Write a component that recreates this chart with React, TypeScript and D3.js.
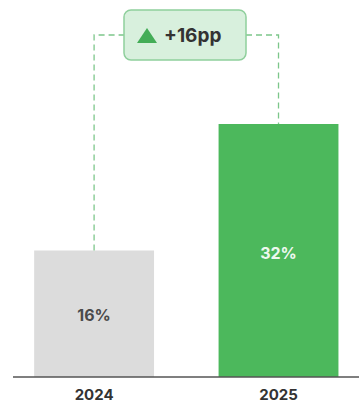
import React from "react";
import * as d3 from "d3";

const years = ["2024", "2025"];
const values = [16, 32];
const valueLabels = ["16%", "32%"];
const changeLabel = "+16pp";
const barColors = ["#dcdcdc", "#4cb85c"];

const W = 359;
const H = 405;
const baseY = 377;

export default function App() {
  const x = d3
    .scaleBand<string>()
    .domain(years)
    .range([2.8, 369.8])
    .paddingInner(0.35)
    .paddingOuter(0.17);
  const y = d3.scaleLinear().domain([0, 32]).range([baseY, 124]);
  const font = "Inter, 'Open Sans', sans-serif";
  const cx = (yr: string) => (x(yr) as number) + x.bandwidth() / 2;
  const leftX = cx(years[0]);
  const rightX = cx(years[1]);
  const dashY = 35;
  const boxX0 = 124;
  const boxX1 = 246;
  const dashColor = "#7cc68a";
  return (
    <svg
      width={W}
      height={H}
      style={{ position: "absolute", left: 0, top: 0, background: "#fff" }}
    >
      {years.map((yr, i) => (
        <g key={yr}>
          <rect
            x={x(yr)}
            y={y(values[i])}
            width={x.bandwidth()}
            height={baseY - y(values[i])}
            fill={barColors[i]}
          />
          <text
            x={cx(yr)}
            y={i === 0 ? y(values[i] / 2) + 7 : y(values[i]) + 135}
            textAnchor="middle"
            fontFamily={font}
            fontWeight={700}
            fontSize={16}
            fill={i === 0 ? "#4a4a4a" : "#eef8ef"}
          >
            {valueLabels[i]}
          </text>
          <text
            x={cx(yr)}
            y={400}
            textAnchor="middle"
            fontFamily={font}
            fontWeight={700}
            fontSize={15}
            fill="#333"
          >
            {yr}
          </text>
        </g>
      ))}
      <line x1={13} x2={359} y1={baseY} y2={baseY} stroke="#555" strokeWidth={1.5} />
      <path
        d={`M${leftX},${y(values[0])}V${dashY}H${boxX0}`}
        fill="none"
        stroke={dashColor}
        strokeWidth={1.3}
        strokeDasharray="6,4"
      />
      <path
        d={`M${boxX1},${dashY}H${rightX}V${y(values[1])}`}
        fill="none"
        stroke={dashColor}
        strokeWidth={1.3}
        strokeDasharray="6,4"
      />
      <rect
        x={boxX0}
        y={10}
        width={boxX1 - boxX0}
        height={50}
        rx={7}
        fill="#d8f0dd"
        stroke="#8fcf9c"
        strokeWidth={1.5}
      />
      <path d="M137,43L147,28L157,43Z" fill="#43ad57" />
      <text
        x={164}
        y={42}
        fontFamily={font}
        fontWeight={700}
        fontSize={19}
        fill="#333"
      >
        {changeLabel}
      </text>
    </svg>
  );
}
